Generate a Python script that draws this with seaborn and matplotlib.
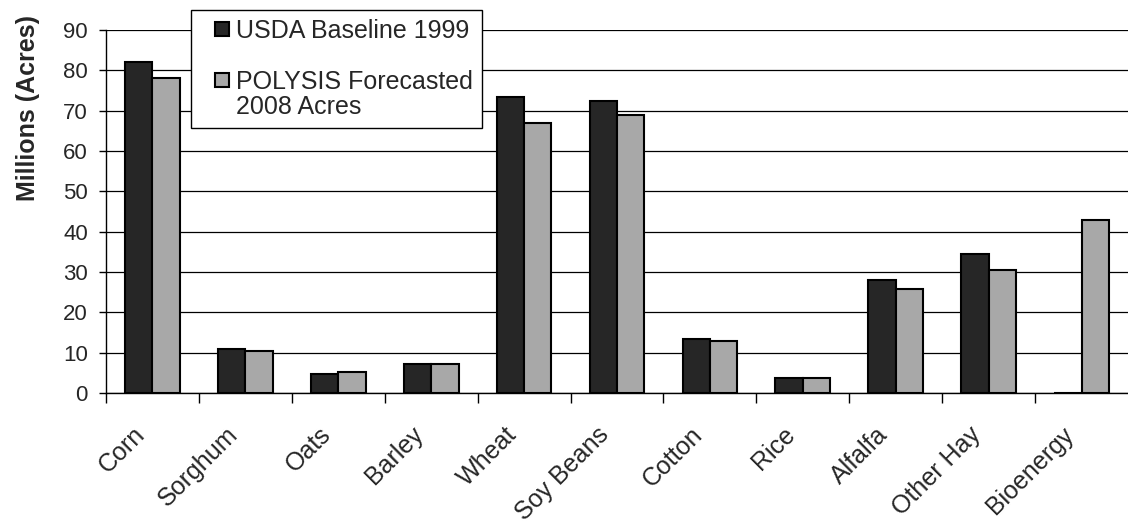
import matplotlib
matplotlib.use("Agg")
import matplotlib.pyplot as plt
import matplotlib.transforms as mtransforms
from matplotlib.patches import Rectangle
from matplotlib.legend_handler import HandlerPatch
import seaborn as sns
import pandas as pd
import numpy as np

categories = ["Corn", "Sorghum", "Oats", "Barley", "Wheat", "Soy Beans",
              "Cotton", "Rice", "Alfalfa", "Other Hay", "Bioenergy"]
usda_1999 = [82.0, 11.0, 4.8, 7.2, 73.5, 72.5, 13.5, 3.8, 28.0, 34.5, 0.0]
polysis_2008 = [78.0, 10.5, 5.3, 7.2, 67.0, 69.0, 13.0, 3.8, 25.8, 30.5, 43.0]
series_names = ["USDA Baseline 1999", "POLYSIS Forecasted\n2008 Acres"]

df = pd.DataFrame({
    "crop": categories * 2,
    "acres": usda_1999 + polysis_2008,
    "series": [series_names[0]] * len(categories) + [series_names[1]] * len(categories),
})

sns.set_theme(style="white")
plt.rcParams["font.family"] = ["Liberation Sans", "DejaVu Sans"]

fig = plt.figure(figsize=(11.28, 5.28), dpi=100)
ax = fig.add_axes([106 / 1128, 1 - 393 / 528, 1 - 106 / 1128, 363 / 528])

sns.barplot(data=df, x="crop", y="acres", hue="series", order=categories,
            hue_order=series_names, palette=["#262626", "#a8a8a8"],
            width=0.59, gap=0, edgecolor="black", linewidth=1.5,
            saturation=1, ax=ax, legend=True, zorder=3)

ax.set_ylim(0, 90)
ax.set_xlim(-0.5, 10.5)
ax.set_yticks(np.arange(0, 91, 10))
ax.yaxis.grid(True, color="black", linewidth=0.9, zorder=0)
ax.set_axisbelow(True)
for s in ["top", "right"]:
    ax.spines[s].set_visible(False)
for s in ["left", "bottom"]:
    ax.spines[s].set_color("black")
    ax.spines[s].set_linewidth(1.0)

ax.set_xlabel("")
ax.set_ylabel("Millions (Acres)", fontsize=18, fontweight="bold")
ax.yaxis.set_label_coords(40, (393 - 108) / 363,
                          transform=mtransforms.blended_transform_factory(
                              mtransforms.IdentityTransform(), ax.transAxes))
ax.tick_params(axis="y", which="major", left=True, length=5, width=1, color="black",
               labelsize=16, pad=8)
ax.set_xticks(range(len(categories)))
ax.set_xticklabels(categories, rotation=45, ha="right", rotation_mode="anchor", fontsize=18)
ax.tick_params(axis="x", which="major", length=0, pad=21)
offset = mtransforms.ScaledTranslation(-20 / 100, 0, fig.dpi_scale_trans)
for lbl in ax.get_xticklabels():
    lbl.set_transform(lbl.get_transform() + offset)
ax.set_xticks(np.arange(-0.5, len(categories) - 0.5, 1), minor=True)
ax.tick_params(axis="x", which="minor", bottom=True, length=7, width=1, color="black")


def square_patch(legend, orig_handle, xdescent, ydescent, width, height, fontsize):
    side = 14 * 72 / 100
    dy = 0.0
    if "\n" in str(orig_handle.get_label()):
        dy = 0.62 * fontsize
    return Rectangle((width - side - xdescent, (height - side) / 2 - ydescent + dy), side, side)


handles, labels = ax.get_legend_handles_labels()
for h, l in zip(handles, labels):
    h.set_label(l)
leg = ax.legend(handles, labels, loc="upper left", bbox_to_anchor=(191 / 1128, 1 - 10 / 528),
                bbox_transform=fig.transFigure, frameon=True, fancybox=False,
                fontsize=18, handlelength=1.15, handleheight=0.6, handletextpad=0.3,
                labelspacing=1.1, borderpad=0.35, borderaxespad=0,
                handler_map={Rectangle: HandlerPatch(patch_func=square_patch)})
for t in leg.get_texts():
    t.set_linespacing(1.05)
leg.get_frame().set_edgecolor("black")
leg.get_frame().set_linewidth(1.0)
leg.get_frame().set_alpha(1)
leg.set_zorder(10)

fig.savefig("out.png", dpi=100)
